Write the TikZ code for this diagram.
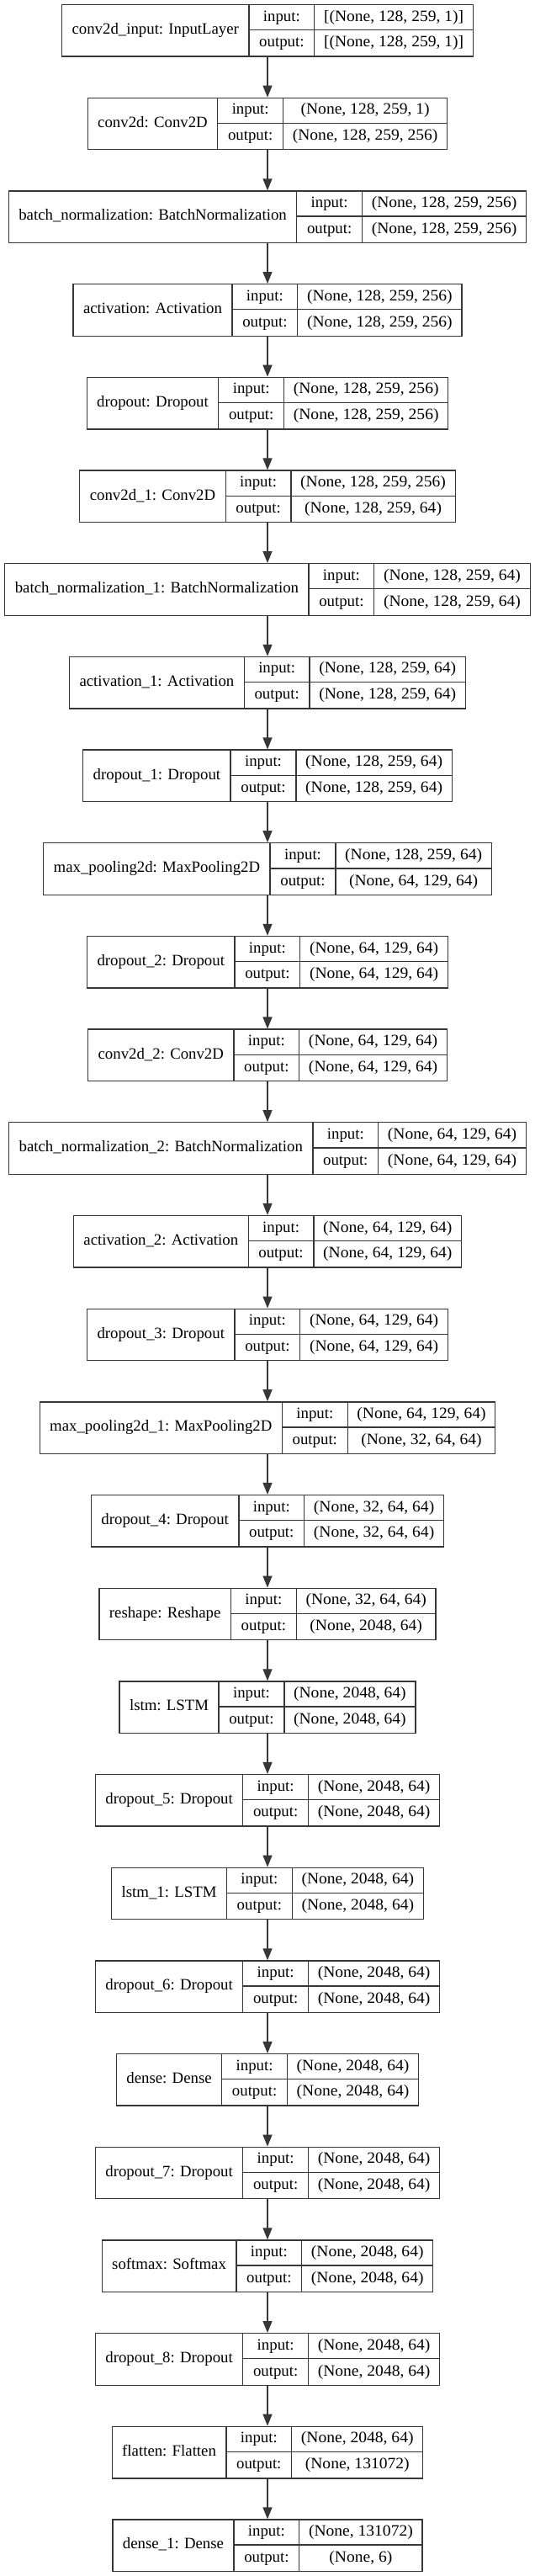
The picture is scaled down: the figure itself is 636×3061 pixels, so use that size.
\documentclass[tikz,border=0pt]{standalone}
\usepackage{fontspec}
\setmainfont{Liberation Serif}
\newfontfamily\valfam[FakeStretch=1.04]{Liberation Serif}
\usetikzlibrary{arrows.meta}
\newlength\lenN
\newlength\lenL
\newlength\lenI
\newlength\lenO
\newcommand\gvfont{\fontsize{18.8}{22}\selectfont}
\newcommand\valfont{\valfam\fontsize{18.8}{22}\selectfont}
\definecolor{linegray}{RGB}{55,55,55}
\tikzset{
  layerbox/.style={draw=linegray, line width=1.3pt, inner sep=0pt, minimum height=61.5pt},
  cell/.style={draw=linegray, line width=1.3pt},
  txt/.style={anchor=base, inner sep=0pt, font=\gvfont, text=black},
  valtxt/.style={anchor=base, inner sep=0pt, font=\valfont, text=black},
  conn/.style={draw=linegray, line width=1.3pt, -{Triangle[length=14pt,width=11pt]}}
}
\makeatletter
\let\kstrip\strip@pt
\makeatother
% store texts and measured widths of one layer (global)
\newcommand\kdef[4]{%
  \settowidth{\lenN}{\gvfont #2}%
  \settowidth{\lenI}{\valfont #3}%
  \settowidth{\lenO}{\valfont #4}%
  \ifdim\lenO>\lenI \setlength{\lenI}{\lenO}\fi
  \expandafter\xdef\csname kwN#1\endcsname{\kstrip\lenN}%
  \expandafter\xdef\csname kwV#1\endcsname{\kstrip\lenI}%
  \expandafter\gdef\csname ktN#1\endcsname{#2}%
  \expandafter\gdef\csname ktI#1\endcsname{#3}%
  \expandafter\gdef\csname ktO#1\endcsname{#4}%
}
\newcommand\klayer[2]{%
  \pgfmathsetmacro\kwN{\csname kwN#1\endcsname+24}%
  \pgfmathsetmacro\kwL{\kLabW+24.5}%
  \pgfmathsetmacro\kwV{\csname kwV#1\endcsname+22.5}%
  \pgfmathsetmacro\kW{\kwN+\kwL+\kwV}%
  \pgfmathsetmacro\kT{5+110.68*#2}%
  \pgfmathsetmacro\kL{318-\kW/2}%
  \pgfmathsetmacro\kA{\kL+\kwN}%
  \pgfmathsetmacro\kB{\kA+\kwL}%
  \pgfmathsetmacro\kR{\kL+\kW}%
  \node[layerbox, minimum width=\kW pt, anchor=north] (#1) at (318,\kT) {};
  \draw[cell] (\kA,\kT) -- (\kA,\kT+61.5);
  \draw[cell] (\kB,\kT) -- (\kB,\kT+61.5);
  \draw[cell] (\kA,\kT+30.75) -- (\kR,\kT+30.75);
  \node[txt] (#1n) at ({(\kL+\kA)/2},\kT+35.6) {\csname ktN#1\endcsname};
  \node[txt] (#1il) at ({(\kA+\kB)/2},\kT+20.2) {input:};
  \node[txt] (#1ol) at ({(\kA+\kB)/2},\kT+51.0) {output:};
  \node[valtxt] (#1iv) at ({(\kB+\kR)/2},\kT+20.2) {\csname ktI#1\endcsname};
  \node[valtxt] (#1ov) at ({(\kB+\kR)/2},\kT+51.0) {\csname ktO#1\endcsname};
}
\begin{document}
\settowidth{\lenL}{\gvfont output:}%
\xdef\kLabW{\kstrip\lenL}%
\kdef{LA}{conv2d\_input: InputLayer}{[(None, 128, 259, 1)]}{[(None, 128, 259, 1)]}%
\kdef{LB}{conv2d: Conv2D}{(None, 128, 259, 1)}{(None, 128, 259, 256)}%
\kdef{LC}{batch\_normalization: BatchNormalization}{(None, 128, 259, 256)}{(None, 128, 259, 256)}%
\kdef{LD}{activation: Activation}{(None, 128, 259, 256)}{(None, 128, 259, 256)}%
\kdef{LE}{dropout: Dropout}{(None, 128, 259, 256)}{(None, 128, 259, 256)}%
\kdef{LF}{conv2d\_1: Conv2D}{(None, 128, 259, 256)}{(None, 128, 259, 64)}%
\kdef{LG}{batch\_normalization\_1: BatchNormalization}{(None, 128, 259, 64)}{(None, 128, 259, 64)}%
\kdef{LH}{activation\_1: Activation}{(None, 128, 259, 64)}{(None, 128, 259, 64)}%
\kdef{LI}{dropout\_1: Dropout}{(None, 128, 259, 64)}{(None, 128, 259, 64)}%
\kdef{LJ}{max\_pooling2d: MaxPooling2D}{(None, 128, 259, 64)}{(None, 64, 129, 64)}%
\kdef{LK}{dropout\_2: Dropout}{(None, 64, 129, 64)}{(None, 64, 129, 64)}%
\kdef{LL}{conv2d\_2: Conv2D}{(None, 64, 129, 64)}{(None, 64, 129, 64)}%
\kdef{LM}{batch\_normalization\_2: BatchNormalization}{(None, 64, 129, 64)}{(None, 64, 129, 64)}%
\kdef{LN}{activation\_2: Activation}{(None, 64, 129, 64)}{(None, 64, 129, 64)}%
\kdef{LO}{dropout\_3: Dropout}{(None, 64, 129, 64)}{(None, 64, 129, 64)}%
\kdef{LP}{max\_pooling2d\_1: MaxPooling2D}{(None, 64, 129, 64)}{(None, 32, 64, 64)}%
\kdef{LQ}{dropout\_4: Dropout}{(None, 32, 64, 64)}{(None, 32, 64, 64)}%
\kdef{LR}{reshape: Reshape}{(None, 32, 64, 64)}{(None, 2048, 64)}%
\kdef{LS}{lstm: LSTM}{(None, 2048, 64)}{(None, 2048, 64)}%
\kdef{LT}{dropout\_5: Dropout}{(None, 2048, 64)}{(None, 2048, 64)}%
\kdef{LU}{lstm\_1: LSTM}{(None, 2048, 64)}{(None, 2048, 64)}%
\kdef{LV}{dropout\_6: Dropout}{(None, 2048, 64)}{(None, 2048, 64)}%
\kdef{LW}{dense: Dense}{(None, 2048, 64)}{(None, 2048, 64)}%
\kdef{LX}{dropout\_7: Dropout}{(None, 2048, 64)}{(None, 2048, 64)}%
\kdef{LY}{softmax: Softmax}{(None, 2048, 64)}{(None, 2048, 64)}%
\kdef{LZ}{dropout\_8: Dropout}{(None, 2048, 64)}{(None, 2048, 64)}%
\kdef{MA}{flatten: Flatten}{(None, 2048, 64)}{(None, 131072)}%
\kdef{MB}{dense\_1: Dense}{(None, 131072)}{(None, 6)}%
\begin{tikzpicture}[x=1pt,y=-1pt]
\fill[white] (0,0) rectangle (636,3061);
\useasboundingbox (0,0) rectangle (636,3061);
\foreach \id/\k in {LA/0,LB/1,LC/2,LD/3,LE/4,LF/5,LG/6,LH/7,LI/8,LJ/9,LK/10,LL/11,LM/12,LN/13,LO/14,LP/15,LQ/16,LR/17,LS/18,LT/19,LU/20,LV/21,LW/22,LX/23,LY/24,LZ/25,MA/26,MB/27}
  {\klayer{\id}{\k}}
\foreach \a/\b in {LA/LB,LB/LC,LC/LD,LD/LE,LE/LF,LF/LG,LG/LH,LH/LI,LI/LJ,LJ/LK,LK/LL,LL/LM,LM/LN,LN/LO,LO/LP,LP/LQ,LQ/LR,LR/LS,LS/LT,LT/LU,LU/LV,LV/LW,LW/LX,LX/LY,LY/LZ,LZ/MA,MA/MB}
  \draw[conn] (\a.south) -- (\b.north);
\end{tikzpicture}
\end{document}
